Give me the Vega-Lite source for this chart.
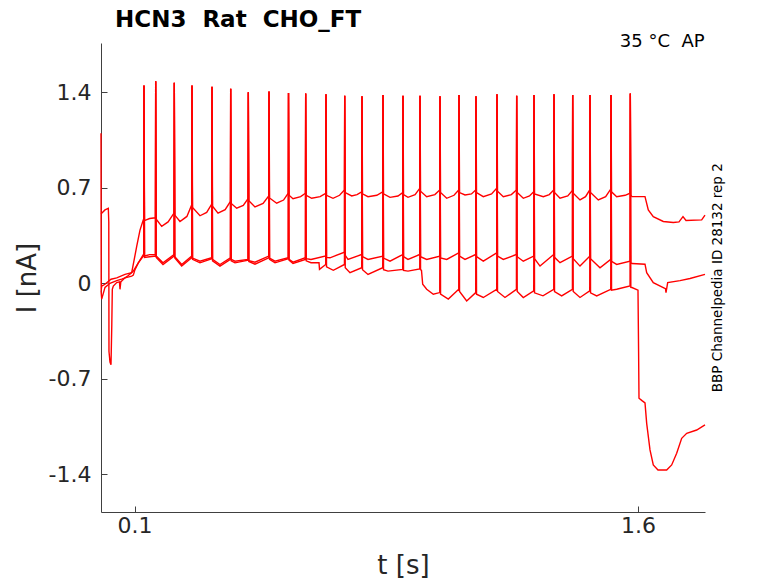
{
  "$schema": "https://vega.github.io/schema/vega-lite/v6.json",
  "width": 604,
  "height": 469,
  "autosize": "none",
  "padding": {"left": 101, "top": 43, "right": 73, "bottom": 71},
  "background": "#ffffff",
  "config": {
    "view": {"stroke": null},
    "font": "DejaVu Sans",
    "axis": {
      "domainColor": "#404040",
      "tickColor": "#404040",
      "labelColor": "#262626",
      "titleColor": "#262626",
      "labelFont": "DejaVu Sans",
      "titleFont": "DejaVu Sans",
      "labelFontSize": 22,
      "titleFontSize": 26,
      "titleFontWeight": "normal",
      "tickSize": -6,
      "grid": false
    }
  },
  "title": {
    "text": "HCN3 \u00a0Rat \u00a0CHO_FT",
    "anchor": "start",
    "frame": "group",
    "dx": 14,
    "offset": 1.5,
    "fontSize": 23,
    "fontWeight": "bold",
    "color": "#000000",
    "font": "DejaVu Sans"
  },
  "layer": [
    {
      "data": {
        "values": [
          {"trace": "A", "t": 0.0000, "I": 0.51},
          {"trace": "A", "t": 0.0021, "I": 0.514},
          {"trace": "A", "t": 0.0119, "I": 0.538},
          {"trace": "A", "t": 0.0218, "I": 0.55},
          {"trace": "A", "t": 0.0232, "I": 0.45},
          {"trace": "A", "t": 0.0238, "I": -0.5},
          {"trace": "A", "t": 0.0268, "I": -0.577},
          {"trace": "A", "t": 0.0298, "I": -0.596},
          {"trace": "A", "t": 0.0322, "I": -0.3},
          {"trace": "A", "t": 0.0337, "I": -0.044},
          {"trace": "A", "t": 0.0367, "I": -0.02},
          {"trace": "A", "t": 0.0468, "I": 0.005},
          {"trace": "A", "t": 0.0551, "I": 0.01},
          {"trace": "A", "t": 0.0566, "I": -0.044},
          {"trace": "A", "t": 0.0590, "I": 0.01},
          {"trace": "A", "t": 0.0617, "I": 0.017},
          {"trace": "A", "t": 0.0715, "I": 0.04},
          {"trace": "A", "t": 0.0805, "I": 0.055},
          {"trace": "A", "t": 0.0915, "I": 0.078},
          {"trace": "A", "t": 0.1064, "I": 0.27},
          {"trace": "A", "t": 0.1162, "I": 0.39},
          {"trace": "A", "t": 0.1261, "I": 0.465},
          {"trace": "A", "t": 0.1273, "I": 0.47},
          {"trace": "A", "t": 0.1281, "I": 1.45},
          {"trace": "A", "t": 0.1297, "I": 0.46},
          {"trace": "A", "t": 0.1450, "I": 0.475},
          {"trace": "A", "t": 0.1622, "I": 0.48},
          {"trace": "A", "t": 0.1630, "I": 1.48},
          {"trace": "A", "t": 0.1646, "I": 0.47},
          {"trace": "A", "t": 0.1809, "I": 0.417},
          {"trace": "A", "t": 0.2000, "I": 0.45},
          {"trace": "A", "t": 0.2176, "I": 0.515},
          {"trace": "A", "t": 0.2184, "I": 1.47},
          {"trace": "A", "t": 0.2200, "I": 0.50},
          {"trace": "A", "t": 0.2354, "I": 0.453},
          {"trace": "A", "t": 0.2560, "I": 0.49},
          {"trace": "A", "t": 0.2704, "I": 0.575},
          {"trace": "A", "t": 0.2712, "I": 1.45},
          {"trace": "A", "t": 0.2728, "I": 0.555},
          {"trace": "A", "t": 0.2950, "I": 0.495},
          {"trace": "A", "t": 0.3150, "I": 0.52},
          {"trace": "A", "t": 0.3300, "I": 0.58},
          {"trace": "A", "t": 0.3308, "I": 1.44},
          {"trace": "A", "t": 0.3324, "I": 0.565},
          {"trace": "A", "t": 0.3487, "I": 0.514},
          {"trace": "A", "t": 0.3700, "I": 0.54},
          {"trace": "A", "t": 0.3857, "I": 0.60},
          {"trace": "A", "t": 0.3865, "I": 1.425},
          {"trace": "A", "t": 0.3881, "I": 0.585},
          {"trace": "A", "t": 0.4044, "I": 0.55},
          {"trace": "A", "t": 0.4240, "I": 0.57},
          {"trace": "A", "t": 0.4382, "I": 0.62},
          {"trace": "A", "t": 0.4390, "I": 1.40},
          {"trace": "A", "t": 0.4406, "I": 0.605},
          {"trace": "A", "t": 0.4589, "I": 0.56},
          {"trace": "A", "t": 0.4830, "I": 0.585},
          {"trace": "A", "t": 0.4999, "I": 0.64},
          {"trace": "A", "t": 0.5007, "I": 1.405},
          {"trace": "A", "t": 0.5023, "I": 0.625},
          {"trace": "A", "t": 0.5236, "I": 0.587},
          {"trace": "A", "t": 0.5440, "I": 0.61},
          {"trace": "A", "t": 0.5580, "I": 0.66},
          {"trace": "A", "t": 0.5588, "I": 1.395},
          {"trace": "A", "t": 0.5604, "I": 0.645},
          {"trace": "A", "t": 0.5722, "I": 0.62},
          {"trace": "A", "t": 0.5950, "I": 0.635},
          {"trace": "A", "t": 0.6092, "I": 0.66},
          {"trace": "A", "t": 0.6100, "I": 1.39},
          {"trace": "A", "t": 0.6116, "I": 0.645},
          {"trace": "A", "t": 0.6279, "I": 0.623},
          {"trace": "A", "t": 0.6530, "I": 0.635},
          {"trace": "A", "t": 0.6697, "I": 0.66},
          {"trace": "A", "t": 0.6705, "I": 1.385},
          {"trace": "A", "t": 0.6721, "I": 0.645},
          {"trace": "A", "t": 0.6914, "I": 0.623},
          {"trace": "A", "t": 0.7110, "I": 0.645},
          {"trace": "A", "t": 0.7255, "I": 0.684},
          {"trace": "A", "t": 0.7263, "I": 1.375},
          {"trace": "A", "t": 0.7279, "I": 0.665},
          {"trace": "A", "t": 0.7471, "I": 0.64},
          {"trace": "A", "t": 0.7630, "I": 0.65},
          {"trace": "A", "t": 0.7770, "I": 0.67},
          {"trace": "A", "t": 0.7778, "I": 1.37},
          {"trace": "A", "t": 0.7794, "I": 0.655},
          {"trace": "A", "t": 0.7957, "I": 0.635},
          {"trace": "A", "t": 0.8220, "I": 0.645},
          {"trace": "A", "t": 0.8396, "I": 0.67},
          {"trace": "A", "t": 0.8404, "I": 1.38},
          {"trace": "A", "t": 0.8420, "I": 0.655},
          {"trace": "A", "t": 0.8613, "I": 0.63},
          {"trace": "A", "t": 0.8850, "I": 0.64},
          {"trace": "A", "t": 0.8992, "I": 0.664},
          {"trace": "A", "t": 0.9000, "I": 1.375},
          {"trace": "A", "t": 0.9016, "I": 0.65},
          {"trace": "A", "t": 0.9149, "I": 0.63},
          {"trace": "A", "t": 0.9360, "I": 0.65},
          {"trace": "A", "t": 0.9499, "I": 0.696},
          {"trace": "A", "t": 0.9507, "I": 1.375},
          {"trace": "A", "t": 0.9523, "I": 0.675},
          {"trace": "A", "t": 0.9706, "I": 0.635},
          {"trace": "A", "t": 0.9950, "I": 0.65},
          {"trace": "A", "t": 1.0095, "I": 0.684},
          {"trace": "A", "t": 1.0103, "I": 1.37},
          {"trace": "A", "t": 1.0119, "I": 0.665},
          {"trace": "A", "t": 1.0302, "I": 0.623},
          {"trace": "A", "t": 1.0520, "I": 0.645},
          {"trace": "A", "t": 1.0661, "I": 0.684},
          {"trace": "A", "t": 1.0669, "I": 1.38},
          {"trace": "A", "t": 1.0685, "I": 0.665},
          {"trace": "A", "t": 1.0848, "I": 0.647},
          {"trace": "A", "t": 1.1040, "I": 0.655},
          {"trace": "A", "t": 1.1167, "I": 0.684},
          {"trace": "A", "t": 1.1175, "I": 1.37},
          {"trace": "A", "t": 1.1191, "I": 0.665},
          {"trace": "A", "t": 1.1393, "I": 0.635},
          {"trace": "A", "t": 1.1640, "I": 0.655},
          {"trace": "A", "t": 1.1793, "I": 0.696},
          {"trace": "A", "t": 1.1801, "I": 1.385},
          {"trace": "A", "t": 1.1817, "I": 0.675},
          {"trace": "A", "t": 1.1989, "I": 0.635},
          {"trace": "A", "t": 1.2230, "I": 0.65},
          {"trace": "A", "t": 1.2380, "I": 0.684},
          {"trace": "A", "t": 1.2388, "I": 1.375},
          {"trace": "A", "t": 1.2404, "I": 0.665},
          {"trace": "A", "t": 1.2585, "I": 0.623},
          {"trace": "A", "t": 1.2770, "I": 0.64},
          {"trace": "A", "t": 1.2896, "I": 0.671},
          {"trace": "A", "t": 1.2904, "I": 1.38},
          {"trace": "A", "t": 1.2920, "I": 0.655},
          {"trace": "A", "t": 1.3181, "I": 0.635},
          {"trace": "A", "t": 1.3360, "I": 0.65},
          {"trace": "A", "t": 1.3492, "I": 0.684},
          {"trace": "A", "t": 1.3500, "I": 1.385},
          {"trace": "A", "t": 1.3516, "I": 0.665},
          {"trace": "A", "t": 1.3679, "I": 0.623},
          {"trace": "A", "t": 1.3910, "I": 0.64},
          {"trace": "A", "t": 1.4049, "I": 0.68},
          {"trace": "A", "t": 1.4057, "I": 1.38},
          {"trace": "A", "t": 1.4073, "I": 0.66},
          {"trace": "A", "t": 1.4275, "I": 0.611},
          {"trace": "A", "t": 1.4440, "I": 0.635},
          {"trace": "A", "t": 1.4565, "I": 0.684},
          {"trace": "A", "t": 1.4573, "I": 1.38},
          {"trace": "A", "t": 1.4589, "I": 0.665},
          {"trace": "A", "t": 1.4820, "I": 0.611},
          {"trace": "A", "t": 1.5040, "I": 0.635},
          {"trace": "A", "t": 1.5191, "I": 0.69},
          {"trace": "A", "t": 1.5199, "I": 1.38},
          {"trace": "A", "t": 1.5215, "I": 0.67},
          {"trace": "A", "t": 1.5368, "I": 0.635},
          {"trace": "A", "t": 1.5620, "I": 0.645},
          {"trace": "A", "t": 1.5766, "I": 0.66},
          {"trace": "A", "t": 1.5774, "I": 1.39},
          {"trace": "A", "t": 1.5790, "I": 0.645},
          {"trace": "A", "t": 1.5824, "I": 0.635},
          {"trace": "A", "t": 1.6212, "I": 0.635},
          {"trace": "A", "t": 1.6310, "I": 0.538},
          {"trace": "A", "t": 1.6459, "I": 0.489},
          {"trace": "A", "t": 1.6757, "I": 0.453},
          {"trace": "A", "t": 1.7055, "I": 0.446},
          {"trace": "A", "t": 1.7225, "I": 0.45},
          {"trace": "A", "t": 1.7344, "I": 0.489},
          {"trace": "A", "t": 1.7434, "I": 0.46},
          {"trace": "A", "t": 1.7901, "I": 0.465},
          {"trace": "A", "t": 1.8000, "I": 0.50},

          {"trace": "B", "t": 0.0000, "I": 1.10},
          {"trace": "B", "t": 0.0006, "I": -0.05},
          {"trace": "B", "t": 0.0021, "I": -0.02},
          {"trace": "B", "t": 0.0119, "I": -0.007},
          {"trace": "B", "t": 0.0298, "I": 0.03},
          {"trace": "B", "t": 0.0468, "I": 0.04},
          {"trace": "B", "t": 0.0715, "I": 0.065},
          {"trace": "B", "t": 0.0915, "I": 0.078},
          {"trace": "B", "t": 0.0963, "I": 0.09},
          {"trace": "B", "t": 0.1112, "I": 0.15},
          {"trace": "B", "t": 0.1261, "I": 0.21},
          {"trace": "B", "t": 0.1273, "I": 0.21},
          {"trace": "B", "t": 0.1281, "I": 1.45},
          {"trace": "B", "t": 0.1297, "I": 0.20},
          {"trace": "B", "t": 0.1450, "I": 0.21},
          {"trace": "B", "t": 0.1622, "I": 0.21},
          {"trace": "B", "t": 0.1630, "I": 1.48},
          {"trace": "B", "t": 0.1646, "I": 0.20},
          {"trace": "B", "t": 0.1848, "I": 0.15},
          {"trace": "B", "t": 0.2176, "I": 0.21},
          {"trace": "B", "t": 0.2184, "I": 1.47},
          {"trace": "B", "t": 0.2200, "I": 0.195},
          {"trace": "B", "t": 0.2405, "I": 0.138},
          {"trace": "B", "t": 0.2704, "I": 0.199},
          {"trace": "B", "t": 0.2712, "I": 1.45},
          {"trace": "B", "t": 0.2728, "I": 0.185},
          {"trace": "B", "t": 0.2950, "I": 0.162},
          {"trace": "B", "t": 0.3300, "I": 0.187},
          {"trace": "B", "t": 0.3308, "I": 1.44},
          {"trace": "B", "t": 0.3324, "I": 0.175},
          {"trace": "B", "t": 0.3546, "I": 0.138},
          {"trace": "B", "t": 0.3857, "I": 0.187},
          {"trace": "B", "t": 0.3865, "I": 1.425},
          {"trace": "B", "t": 0.3881, "I": 0.175},
          {"trace": "B", "t": 0.3993, "I": 0.162},
          {"trace": "B", "t": 0.4382, "I": 0.175},
          {"trace": "B", "t": 0.4390, "I": 1.40},
          {"trace": "B", "t": 0.4406, "I": 0.165},
          {"trace": "B", "t": 0.4589, "I": 0.155},
          {"trace": "B", "t": 0.4999, "I": 0.199},
          {"trace": "B", "t": 0.5007, "I": 1.405},
          {"trace": "B", "t": 0.5023, "I": 0.185},
          {"trace": "B", "t": 0.5185, "I": 0.162},
          {"trace": "B", "t": 0.5580, "I": 0.187},
          {"trace": "B", "t": 0.5588, "I": 1.395},
          {"trace": "B", "t": 0.5604, "I": 0.175},
          {"trace": "B", "t": 0.5722, "I": 0.155},
          {"trace": "B", "t": 0.6092, "I": 0.187},
          {"trace": "B", "t": 0.6100, "I": 1.39},
          {"trace": "B", "t": 0.6116, "I": 0.18},
          {"trace": "B", "t": 0.6258, "I": 0.175},
          {"trace": "B", "t": 0.6697, "I": 0.20},
          {"trace": "B", "t": 0.6705, "I": 1.385},
          {"trace": "B", "t": 0.6721, "I": 0.19},
          {"trace": "B", "t": 0.6824, "I": 0.187},
          {"trace": "B", "t": 0.7255, "I": 0.228},
          {"trace": "B", "t": 0.7263, "I": 1.375},
          {"trace": "B", "t": 0.7279, "I": 0.205},
          {"trace": "B", "t": 0.7361, "I": 0.175},
          {"trace": "B", "t": 0.7770, "I": 0.211},
          {"trace": "B", "t": 0.7778, "I": 1.37},
          {"trace": "B", "t": 0.7794, "I": 0.195},
          {"trace": "B", "t": 0.7957, "I": 0.175},
          {"trace": "B", "t": 0.8396, "I": 0.199},
          {"trace": "B", "t": 0.8404, "I": 1.38},
          {"trace": "B", "t": 0.8420, "I": 0.185},
          {"trace": "B", "t": 0.8613, "I": 0.162},
          {"trace": "B", "t": 0.8992, "I": 0.211},
          {"trace": "B", "t": 0.9000, "I": 1.375},
          {"trace": "B", "t": 0.9016, "I": 0.195},
          {"trace": "B", "t": 0.9149, "I": 0.175},
          {"trace": "B", "t": 0.9499, "I": 0.211},
          {"trace": "B", "t": 0.9507, "I": 1.375},
          {"trace": "B", "t": 0.9523, "I": 0.195},
          {"trace": "B", "t": 0.9706, "I": 0.175},
          {"trace": "B", "t": 1.0095, "I": 0.199},
          {"trace": "B", "t": 1.0103, "I": 1.37},
          {"trace": "B", "t": 1.0119, "I": 0.185},
          {"trace": "B", "t": 1.0302, "I": 0.175},
          {"trace": "B", "t": 1.0661, "I": 0.223},
          {"trace": "B", "t": 1.0669, "I": 1.38},
          {"trace": "B", "t": 1.0685, "I": 0.20},
          {"trace": "B", "t": 1.0848, "I": 0.175},
          {"trace": "B", "t": 1.1167, "I": 0.211},
          {"trace": "B", "t": 1.1175, "I": 1.37},
          {"trace": "B", "t": 1.1191, "I": 0.195},
          {"trace": "B", "t": 1.1393, "I": 0.162},
          {"trace": "B", "t": 1.1793, "I": 0.223},
          {"trace": "B", "t": 1.1801, "I": 1.385},
          {"trace": "B", "t": 1.1817, "I": 0.20},
          {"trace": "B", "t": 1.1989, "I": 0.175},
          {"trace": "B", "t": 1.2380, "I": 0.211},
          {"trace": "B", "t": 1.2388, "I": 1.375},
          {"trace": "B", "t": 1.2404, "I": 0.195},
          {"trace": "B", "t": 1.2585, "I": 0.162},
          {"trace": "B", "t": 1.2896, "I": 0.199},
          {"trace": "B", "t": 1.2904, "I": 1.38},
          {"trace": "B", "t": 1.2920, "I": 0.18},
          {"trace": "B", "t": 1.3083, "I": 0.126},
          {"trace": "B", "t": 1.3492, "I": 0.211},
          {"trace": "B", "t": 1.3500, "I": 1.385},
          {"trace": "B", "t": 1.3516, "I": 0.19},
          {"trace": "B", "t": 1.3679, "I": 0.151},
          {"trace": "B", "t": 1.4049, "I": 0.199},
          {"trace": "B", "t": 1.4057, "I": 1.38},
          {"trace": "B", "t": 1.4073, "I": 0.18},
          {"trace": "B", "t": 1.4275, "I": 0.126},
          {"trace": "B", "t": 1.4565, "I": 0.199},
          {"trace": "B", "t": 1.4573, "I": 1.38},
          {"trace": "B", "t": 1.4589, "I": 0.18},
          {"trace": "B", "t": 1.4871, "I": 0.114},
          {"trace": "B", "t": 1.5191, "I": 0.175},
          {"trace": "B", "t": 1.5199, "I": 1.38},
          {"trace": "B", "t": 1.5215, "I": 0.16},
          {"trace": "B", "t": 1.5368, "I": 0.138},
          {"trace": "B", "t": 1.5766, "I": 0.162},
          {"trace": "B", "t": 1.5774, "I": 1.39},
          {"trace": "B", "t": 1.5790, "I": 0.15},
          {"trace": "B", "t": 1.5824, "I": 0.145},
          {"trace": "B", "t": 1.6212, "I": 0.14},
          {"trace": "B", "t": 1.6262, "I": 0.078},
          {"trace": "B", "t": 1.6459, "I": 0.005},
          {"trace": "B", "t": 1.6757, "I": -0.031},
          {"trace": "B", "t": 1.6822, "I": -0.04},
          {"trace": "B", "t": 1.6838, "I": -0.068},
          {"trace": "B", "t": 1.6888, "I": 0.005},
          {"trace": "B", "t": 1.7255, "I": 0.02},
          {"trace": "B", "t": 1.7553, "I": 0.035},
          {"trace": "B", "t": 1.8000, "I": 0.065},

          {"trace": "C", "t": 0.0000, "I": -0.05},
          {"trace": "C", "t": 0.0021, "I": -0.116},
          {"trace": "C", "t": 0.0119, "I": -0.03},
          {"trace": "C", "t": 0.0268, "I": 0.0},
          {"trace": "C", "t": 0.0468, "I": 0.02},
          {"trace": "C", "t": 0.0617, "I": 0.03},
          {"trace": "C", "t": 0.0715, "I": 0.04},
          {"trace": "C", "t": 0.0915, "I": 0.053},
          {"trace": "C", "t": 0.0963, "I": 0.06},
          {"trace": "C", "t": 0.1013, "I": 0.10},
          {"trace": "C", "t": 0.1112, "I": 0.15},
          {"trace": "C", "t": 0.1261, "I": 0.20},
          {"trace": "C", "t": 0.1273, "I": 0.20},
          {"trace": "C", "t": 0.1281, "I": 1.45},
          {"trace": "C", "t": 0.1297, "I": 0.19},
          {"trace": "C", "t": 0.1450, "I": 0.195},
          {"trace": "C", "t": 0.1622, "I": 0.20},
          {"trace": "C", "t": 0.1630, "I": 1.48},
          {"trace": "C", "t": 0.1646, "I": 0.19},
          {"trace": "C", "t": 0.1848, "I": 0.138},
          {"trace": "C", "t": 0.2176, "I": 0.199},
          {"trace": "C", "t": 0.2184, "I": 1.47},
          {"trace": "C", "t": 0.2200, "I": 0.185},
          {"trace": "C", "t": 0.2405, "I": 0.126},
          {"trace": "C", "t": 0.2704, "I": 0.187},
          {"trace": "C", "t": 0.2712, "I": 1.45},
          {"trace": "C", "t": 0.2728, "I": 0.175},
          {"trace": "C", "t": 0.2950, "I": 0.15},
          {"trace": "C", "t": 0.3300, "I": 0.18},
          {"trace": "C", "t": 0.3308, "I": 1.44},
          {"trace": "C", "t": 0.3324, "I": 0.165},
          {"trace": "C", "t": 0.3546, "I": 0.126},
          {"trace": "C", "t": 0.3857, "I": 0.175},
          {"trace": "C", "t": 0.3865, "I": 1.425},
          {"trace": "C", "t": 0.3881, "I": 0.165},
          {"trace": "C", "t": 0.3993, "I": 0.15},
          {"trace": "C", "t": 0.4382, "I": 0.17},
          {"trace": "C", "t": 0.4390, "I": 1.40},
          {"trace": "C", "t": 0.4406, "I": 0.16},
          {"trace": "C", "t": 0.4589, "I": 0.14},
          {"trace": "C", "t": 0.4999, "I": 0.187},
          {"trace": "C", "t": 0.5007, "I": 1.405},
          {"trace": "C", "t": 0.5023, "I": 0.175},
          {"trace": "C", "t": 0.5185, "I": 0.15},
          {"trace": "C", "t": 0.5580, "I": 0.18},
          {"trace": "C", "t": 0.5588, "I": 1.395},
          {"trace": "C", "t": 0.5604, "I": 0.17},
          {"trace": "C", "t": 0.5722, "I": 0.145},
          {"trace": "C", "t": 0.6092, "I": 0.175},
          {"trace": "C", "t": 0.6100, "I": 1.39},
          {"trace": "C", "t": 0.6116, "I": 0.165},
          {"trace": "C", "t": 0.6258, "I": 0.151},
          {"trace": "C", "t": 0.6497, "I": 0.151},
          {"trace": "C", "t": 0.6512, "I": 0.102},
          {"trace": "C", "t": 0.6697, "I": 0.138},
          {"trace": "C", "t": 0.6705, "I": 1.385},
          {"trace": "C", "t": 0.6721, "I": 0.12},
          {"trace": "C", "t": 0.6923, "I": 0.095},
          {"trace": "C", "t": 0.7255, "I": 0.138},
          {"trace": "C", "t": 0.7263, "I": 1.375},
          {"trace": "C", "t": 0.7279, "I": 0.115},
          {"trace": "C", "t": 0.7420, "I": 0.078},
          {"trace": "C", "t": 0.7770, "I": 0.114},
          {"trace": "C", "t": 0.7778, "I": 1.37},
          {"trace": "C", "t": 0.7794, "I": 0.10},
          {"trace": "C", "t": 0.7957, "I": 0.065},
          {"trace": "C", "t": 0.8396, "I": 0.114},
          {"trace": "C", "t": 0.8404, "I": 1.38},
          {"trace": "C", "t": 0.8420, "I": 0.10},
          {"trace": "C", "t": 0.8553, "I": 0.089},
          {"trace": "C", "t": 0.8992, "I": 0.102},
          {"trace": "C", "t": 0.9000, "I": 1.375},
          {"trace": "C", "t": 0.9016, "I": 0.095},
          {"trace": "C", "t": 0.9149, "I": 0.089},
          {"trace": "C", "t": 0.9499, "I": 0.106},
          {"trace": "C", "t": 0.9507, "I": 1.375},
          {"trace": "C", "t": 0.9523, "I": 0.10},
          {"trace": "C", "t": 0.9551, "I": 0.095},
          {"trace": "C", "t": 0.9587, "I": -0.007},
          {"trace": "C", "t": 0.9706, "I": -0.044},
          {"trace": "C", "t": 0.9903, "I": -0.08},
          {"trace": "C", "t": 1.0095, "I": -0.068},
          {"trace": "C", "t": 1.0103, "I": 1.37},
          {"trace": "C", "t": 1.0119, "I": -0.08},
          {"trace": "C", "t": 1.0350, "I": -0.116},
          {"trace": "C", "t": 1.0661, "I": -0.044},
          {"trace": "C", "t": 1.0669, "I": 1.38},
          {"trace": "C", "t": 1.0685, "I": -0.06},
          {"trace": "C", "t": 1.0898, "I": -0.129},
          {"trace": "C", "t": 1.1167, "I": -0.068},
          {"trace": "C", "t": 1.1175, "I": 1.37},
          {"trace": "C", "t": 1.1191, "I": -0.08},
          {"trace": "C", "t": 1.1393, "I": -0.104},
          {"trace": "C", "t": 1.1793, "I": -0.044},
          {"trace": "C", "t": 1.1801, "I": 1.385},
          {"trace": "C", "t": 1.1817, "I": -0.06},
          {"trace": "C", "t": 1.2039, "I": -0.104},
          {"trace": "C", "t": 1.2380, "I": -0.044},
          {"trace": "C", "t": 1.2388, "I": 1.375},
          {"trace": "C", "t": 1.2404, "I": -0.06},
          {"trace": "C", "t": 1.2585, "I": -0.104},
          {"trace": "C", "t": 1.2896, "I": -0.056},
          {"trace": "C", "t": 1.2904, "I": 1.38},
          {"trace": "C", "t": 1.2920, "I": -0.07},
          {"trace": "C", "t": 1.3172, "I": -0.092},
          {"trace": "C", "t": 1.3492, "I": -0.044},
          {"trace": "C", "t": 1.3500, "I": 1.385},
          {"trace": "C", "t": 1.3516, "I": -0.06},
          {"trace": "C", "t": 1.3729, "I": -0.092},
          {"trace": "C", "t": 1.4049, "I": -0.044},
          {"trace": "C", "t": 1.4057, "I": 1.38},
          {"trace": "C", "t": 1.4073, "I": -0.06},
          {"trace": "C", "t": 1.4275, "I": -0.104},
          {"trace": "C", "t": 1.4565, "I": -0.056},
          {"trace": "C", "t": 1.4573, "I": 1.38},
          {"trace": "C", "t": 1.4589, "I": -0.07},
          {"trace": "C", "t": 1.4772, "I": -0.092},
          {"trace": "C", "t": 1.5191, "I": -0.044},
          {"trace": "C", "t": 1.5199, "I": 1.38},
          {"trace": "C", "t": 1.5215, "I": -0.05},
          {"trace": "C", "t": 1.5368, "I": -0.044},
          {"trace": "C", "t": 1.5766, "I": -0.02},
          {"trace": "C", "t": 1.5774, "I": 1.39},
          {"trace": "C", "t": 1.5790, "I": -0.03},
          {"trace": "C", "t": 1.5824, "I": -0.031},
          {"trace": "C", "t": 1.6003, "I": -0.05},
          {"trace": "C", "t": 1.6021, "I": -0.5},
          {"trace": "C", "t": 1.6033, "I": -0.842},
          {"trace": "C", "t": 1.6122, "I": -0.86},
          {"trace": "C", "t": 1.6212, "I": -0.877},
          {"trace": "C", "t": 1.6262, "I": -1.026},
          {"trace": "C", "t": 1.6361, "I": -1.221},
          {"trace": "C", "t": 1.6459, "I": -1.331},
          {"trace": "C", "t": 1.6599, "I": -1.368},
          {"trace": "C", "t": 1.6858, "I": -1.368},
          {"trace": "C", "t": 1.7007, "I": -1.331},
          {"trace": "C", "t": 1.7156, "I": -1.246},
          {"trace": "C", "t": 1.7305, "I": -1.136},
          {"trace": "C", "t": 1.7455, "I": -1.099},
          {"trace": "C", "t": 1.7752, "I": -1.075},
          {"trace": "C", "t": 1.8000, "I": -1.038}
        ]
      },
      "mark": {"type": "line", "color": "#ff0000", "strokeWidth": 1.4},
      "encoding": {
        "x": {
          "field": "t",
          "type": "quantitative",
          "scale": {"domain": [0, 1.8], "nice": false, "zero": false},
          "axis": {"values": [0.1, 1.6], "title": "t [s]", "labelPadding": 9, "titlePadding": 16, "labelExpr": "toString(datum.value)"}
        },
        "y": {
          "field": "I",
          "type": "quantitative",
          "scale": {"domain": [-1.676, 1.761], "nice": false, "zero": false},
          "axis": {"values": [-1.4, -0.7, 0, 0.7, 1.4], "title": "I [nA]", "labelPadding": 16, "titlePadding": 8, "labelExpr": "toString(datum.value)"}
        },
        "detail": {"field": "trace", "type": "nominal"}
      }
    },
    {
      "data": {"values": [{"label": "35 °C \u00a0AP", "t": 1.799, "I": 1.73}]},
      "mark": {"type": "text", "align": "right", "baseline": "alphabetic", "fontSize": 18, "color": "#000000", "font": "DejaVu Sans"},
      "encoding": {
        "x": {"field": "t", "type": "quantitative"},
        "y": {"field": "I", "type": "quantitative"},
        "text": {"field": "label"}
      }
    },
    {
      "data": {"values": [{"label": "BBP Channelpedia ID 28132 rep 2", "t": 1.8506, "I": 0.041}]},
      "mark": {"type": "text", "angle": 270, "align": "center", "baseline": "alphabetic", "fontSize": 13.5, "color": "#000000", "font": "DejaVu Sans"},
      "encoding": {
        "x": {"field": "t", "type": "quantitative"},
        "y": {"field": "I", "type": "quantitative"},
        "text": {"field": "label"}
      }
    }
  ]
}
